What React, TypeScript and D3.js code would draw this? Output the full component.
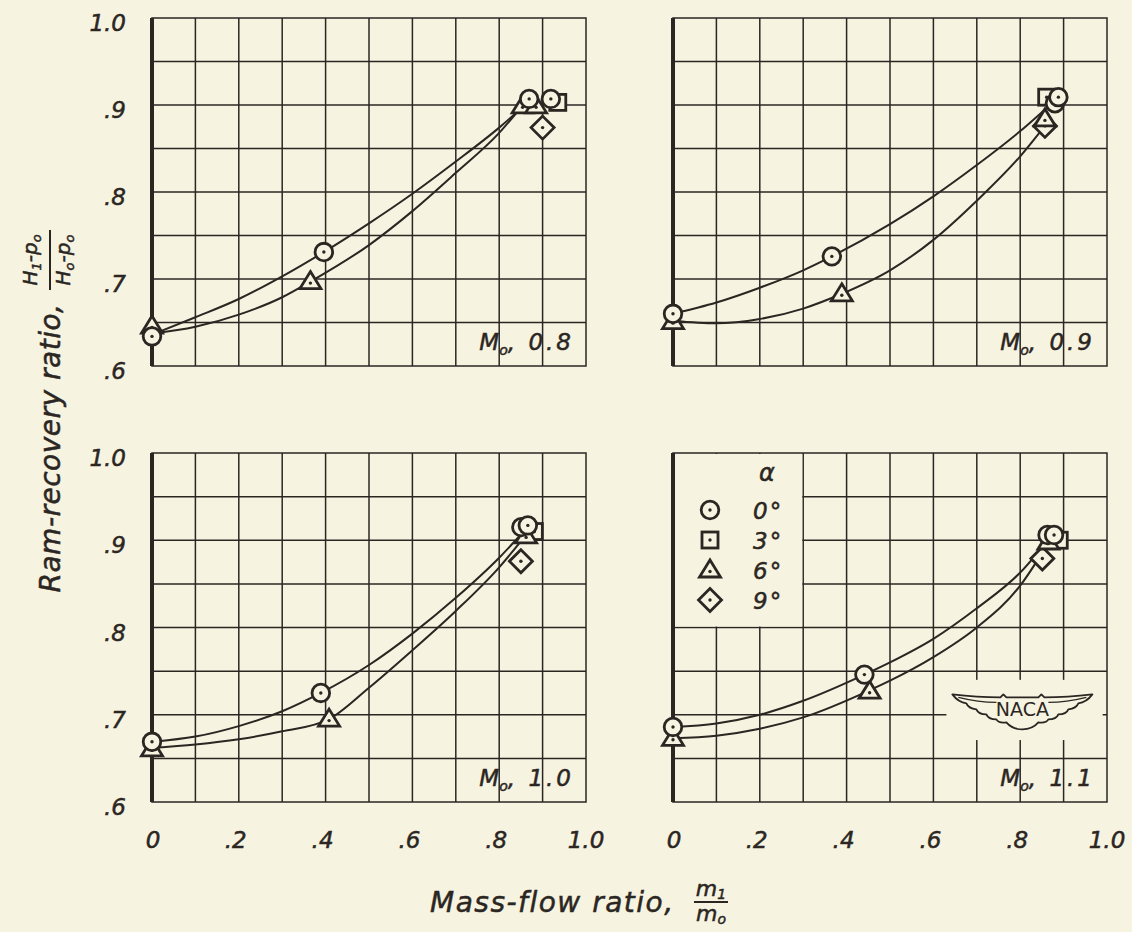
import React from "react";
import * as d3 from "d3";

// Free-stream Mach number of each panel (top-left, top-right, bottom-left, bottom-right)
const machLabels = ["0.8", "0.9", "1.0", "1.1"];

const xTicks = [0, 0.2, 0.4, 0.6, 0.8, 1.0];
const xTickLabels = ["0", ".2", ".4", ".6", ".8", "1.0"];
const yTicks = [0.6, 0.7, 0.8, 0.9, 1.0];
const yTickLabels = [".6", ".7", ".8", ".9", "1.0"];
const alphaLabels = ["0°", "3°", "6°", "9°"];

// measured points [mass-flow ratio, ram-recovery ratio], one list per panel
const alpha0 = [
  [[0, 0.634], [0.396, 0.731], [0.869, 0.907], [0.919, 0.907]],
  [[0, 0.66], [0.366, 0.726], [0.88, 0.902], [0.888, 0.909]],
  [[0, 0.669], [0.389, 0.725], [0.851, 0.915], [0.866, 0.917]],
  [[0, 0.686], [0.441, 0.746], [0.863, 0.906], [0.878, 0.906]],
];
const alpha3 = [
  [[0.935, 0.903]],
  [[0.861, 0.909]],
  [[0.881, 0.91]],
  [[0.89, 0.9]],
];
const alpha6 = [
  [[0, 0.646], [0.365, 0.697], [0.854, 0.899], [0.885, 0.899]],
  [[0, 0.651], [0.389, 0.683], [0.857, 0.884]],
  [[0, 0.661], [0.408, 0.695], [0.862, 0.905]],
  [[0, 0.673], [0.453, 0.727], [0.865, 0.898]],
];
const alpha9 = [
  [[0.9, 0.874]],
  [[0.857, 0.876]],
  [[0.85, 0.876]],
  [[0.851, 0.879]],
];

// faired curves (upper one through the 0° points, lower through the 6° points)
const upperCurve = [
  [[0, 0.636], [0.1, 0.656], [0.2, 0.677], [0.3, 0.703], [0.396, 0.731], [0.5, 0.764], [0.6, 0.798], [0.7, 0.835], [0.8, 0.874], [0.87, 0.905]],
  [[0, 0.66], [0.1, 0.673], [0.2, 0.69], [0.3, 0.71], [0.366, 0.726], [0.5, 0.763], [0.6, 0.795], [0.7, 0.831], [0.8, 0.87], [0.875, 0.903]],
  [[0, 0.669], [0.1, 0.675], [0.2, 0.687], [0.3, 0.704], [0.389, 0.725], [0.5, 0.757], [0.6, 0.793], [0.7, 0.834], [0.8, 0.88], [0.86, 0.912]],
  [[0, 0.686], [0.1, 0.69], [0.2, 0.7], [0.3, 0.716], [0.441, 0.746], [0.5, 0.76], [0.6, 0.787], [0.7, 0.822], [0.8, 0.863], [0.87, 0.904]],
];
const lowerCurve = [
  [[0, 0.637], [0.1, 0.645], [0.2, 0.659], [0.3, 0.679], [0.365, 0.697], [0.5, 0.739], [0.6, 0.778], [0.7, 0.822], [0.8, 0.868], [0.858, 0.902]],
  [[0, 0.652], [0.1, 0.649], [0.2, 0.654], [0.3, 0.666], [0.389, 0.683], [0.5, 0.71], [0.6, 0.745], [0.7, 0.79], [0.8, 0.841], [0.86, 0.878]],
  [[0, 0.662], [0.1, 0.666], [0.2, 0.672], [0.3, 0.681], [0.408, 0.695], [0.5, 0.731], [0.6, 0.774], [0.7, 0.819], [0.8, 0.869], [0.86, 0.905]],
  [[0, 0.673], [0.1, 0.676], [0.2, 0.684], [0.3, 0.697], [0.453, 0.728], [0.5, 0.739], [0.6, 0.766], [0.7, 0.8], [0.8, 0.848], [0.86, 0.893]],
];

const BG = "#f6f3e1";
const INK = "#2b2622";
const FONT = "'DejaVu Sans', 'Liberation Sans', sans-serif";

const boxes = [
  { x0: 152, x1: 586, y0: 18, y1: 366 },
  { x0: 673, x1: 1107, y0: 18, y1: 366 },
  { x0: 152, x1: 586, y0: 453, y1: 802 },
  { x0: 673, x1: 1107, y0: 453, y1: 802 },
];

const textInk = { fill: INK, stroke: INK, strokeWidth: 0.5 };

type Pt = number[];

function Marker({ kind, cx, cy }: { kind: number; cx: number; cy: number }) {
  const common = { fill: BG, stroke: INK, strokeWidth: 2.8 };
  let shape;
  let dy = 0;
  if (kind === 0) shape = <circle cx={cx} cy={cy} r={8.8} {...common} />;
  else if (kind === 1) shape = <rect x={cx - 8} y={cy - 8} width={16} height={16} {...common} />;
  else if (kind === 2) {
    shape = <path d={`M${cx},${cy - 10}L${cx + 10.5},${cy + 7}L${cx - 10.5},${cy + 7}Z`} {...common} />;
    dy = 1.5;
  } else shape = <path d={`M${cx},${cy - 11.5}L${cx + 11.5},${cy}L${cx},${cy + 11.5}L${cx - 11.5},${cy}Z`} {...common} />;
  return (
    <g>
      {shape}
      <circle cx={cx} cy={cy + dy} r={1.7} fill={INK} />
    </g>
  );
}

function Wings({ cx, cy }: { cx: number; cy: number }) {
  const outline =
    "M-70,-16 Q-45,-13 -22,-13 L-19,-16 L-16,-13 L16,-13 L19,-16 L22,-13 Q45,-13 70,-16 " +
    "Q64,-8 56,-7 Q54,-2 46,-1 Q44,4 36,4 Q34,9 26,9 Q24,13 16,12 Q10,19 0,19 " +
    "Q-10,19 -16,12 Q-24,13 -26,9 Q-34,9 -36,4 Q-44,4 -46,-1 Q-54,-2 -56,-7 Q-64,-8 -70,-16 Z";
  return (
    <g transform={`translate(${cx},${cy})`}>
      <path d={outline} fill={BG} stroke={INK} strokeWidth={1.8} strokeLinejoin="round" />
      <path d="M-64,-13 Q-44,-8 -26,-8 M26,-8 Q44,-8 64,-13" fill="none" stroke={INK} strokeWidth={1.3} />
      <text
        x={0}
        y={6}
        textAnchor="middle"
        fontFamily={FONT}
        fontStyle="normal"
        fontSize={19}
        fill={INK}
        stroke="none"
      >
        NACA
      </text>
    </g>
  );
}

function Panel({ i }: { i: number }) {
  const b = boxes[i];
  const x = d3.scaleLinear().domain([0, 1]).range([b.x0, b.x1]);
  const y = d3.scaleLinear().domain([0.6, 1]).range([b.y1, b.y0]);
  const line = d3
    .line<Pt>()
    .x((d) => x(d[0]))
    .y((d) => y(d[1]))
    .curve(d3.curveMonotoneX);
  const gx = d3.range(1, 10).map((k) => k / 10);
  const gy = d3.range(1, 8).map((k) => 0.6 + k * 0.05);
  const left = i % 2 === 0;
  const bottom = i >= 2;

  const series = [alpha9[i], alpha3[i], alpha6[i], alpha0[i]];
  const kinds = [3, 1, 2, 0];

  return (
    <g>
      {gx.map((v) => (
        <line key={"x" + v} x1={x(v)} x2={x(v)} y1={y(0.6)} y2={y(1)} stroke={INK} strokeWidth={1.5} />
      ))}
      {gy.map((v) => (
        <line key={"y" + v} x1={x(0)} x2={x(1)} y1={y(v)} y2={y(v)} stroke={INK} strokeWidth={1.5} />
      ))}
      {i === 3 && (
        <g>
          <rect x={x(0) + 1} y={y(1) + 1} width={x(0.3) - x(0) - 2} height={y(0.8) - y(1) - 2} fill={BG} />
          <rect x={x(0.63)} y={y(0.74)} width={x(0.99) - x(0.63)} height={y(0.671) - y(0.74)} fill={BG} />
        </g>
      )}
      <rect x={x(0)} y={y(1)} width={x(1) - x(0)} height={y(0.6) - y(1)} fill="none" stroke={INK} strokeWidth={1.5} />
      <line x1={x(0)} x2={x(0)} y1={y(1)} y2={y(0.6)} stroke={INK} strokeWidth={4} />

      <path d={line(upperCurve[i]) || ""} fill="none" stroke={INK} strokeWidth={2} />
      <path d={line(lowerCurve[i]) || ""} fill="none" stroke={INK} strokeWidth={2} />

      {series.map((pts, s) =>
        pts.map((p, k) => <Marker key={s + "-" + k} kind={kinds[s]} cx={x(p[0])} cy={y(p[1])} />)
      )}

      <text
        x={x(1) - 12}
        y={y(0.6) - 16}
        textAnchor="end"
        fontFamily={FONT}
        fontStyle="italic"
        fontSize={23}
        {...textInk}
      >
        M
        <tspan fontSize={14} dy={5}>
          o
        </tspan>
        <tspan dy={-5} letterSpacing={3}>
          , {machLabels[i]}
        </tspan>
      </text>

      {left &&
        yTicks.map((v, k) => (
          <text
            key={"yl" + v}
            x={b.x0 - 26}
            y={y(v) + 13}
            textAnchor="end"
            fontFamily={FONT}
            fontStyle="italic"
            fontSize={23}
            {...textInk}
          >
            {yTickLabels[k]}
          </text>
        ))}
      {bottom &&
        xTicks.map((v, k) => (
          <text
            key={"xl" + v}
            x={x(v) + (k === 0 ? 1 : k === 5 ? 0 : -3)}
            y={b.y1 + 46}
            textAnchor="middle"
            fontFamily={FONT}
            fontStyle="italic"
            fontSize={23}
            {...textInk}
          >
            {xTickLabels[k]}
          </text>
        ))}

      {i === 3 && (
        <g fontFamily={FONT} fontStyle="italic">
          <text x={x(0) + 94} y={y(1) + 28} textAnchor="middle" fontSize={24} {...textInk}>
            α
          </text>
          {alphaLabels.map((lab, k) => (
            <g key={lab}>
              <Marker kind={k} cx={x(0) + 37} cy={y(1) + 57 + k * 30} />
              <text x={x(0) + 80} y={y(1) + 66 + k * 30} fontSize={23} letterSpacing={2} {...textInk}>
                {lab}
              </text>
            </g>
          ))}
          <Wings cx={x(0.805)} cy={y(0.705)} />
        </g>
      )}
    </g>
  );
}

export default function App() {
  return (
    <svg
      width={1132}
      height={932}
      style={{ position: "absolute", left: 0, top: 0, background: BG }}
    >
      <rect width={1132} height={932} fill={BG} />
      {boxes.map((_, i) => (
        <Panel key={i} i={i} />
      ))}

      {/* y-axis title */}
      <g transform="translate(60,448) rotate(-90)" fontFamily={FONT} fontStyle="italic">
        <text x={0} y={0} textAnchor="middle" fontSize={28} letterSpacing={0.5} {...textInk}>
          Ram-recovery ratio,
        </text>
      </g>
      <g transform="translate(50,260) rotate(-90)" fontFamily={FONT} fontStyle="italic">
        <text x={0} y={-13} textAnchor="middle" fontSize={20} {...textInk}>
          H<tspan fontSize={13} dy={4}>1</tspan>
          <tspan dy={-4}>-p</tspan>
          <tspan fontSize={13} dy={4}>o</tspan>
        </text>
        <line x1={-30} x2={30} y1={0} y2={0} stroke={INK} strokeWidth={2} />
        <text x={0} y={20} textAnchor="middle" fontSize={20} {...textInk}>
          H<tspan fontSize={13} dy={4}>o</tspan>
          <tspan dy={-4}>-p</tspan>
          <tspan fontSize={13} dy={4}>o</tspan>
        </text>
      </g>

      {/* x-axis title */}
      <g fontFamily={FONT} fontStyle="italic">
        <text x={430} y={912} fontSize={28} letterSpacing={1.5} {...textInk}>
          Mass-flow ratio,
        </text>
        <text x={711} y={896} textAnchor="middle" fontSize={22} {...textInk}>
          m<tspan fontSize={14} dy={3}>1</tspan>
        </text>
        <line x1={694} x2={728} y1={902} y2={902} stroke={INK} strokeWidth={2} />
        <text x={711} y={921} textAnchor="middle" fontSize={22} {...textInk}>
          m<tspan fontSize={14} dy={3}>o</tspan>
        </text>
      </g>
    </svg>
  );
}
